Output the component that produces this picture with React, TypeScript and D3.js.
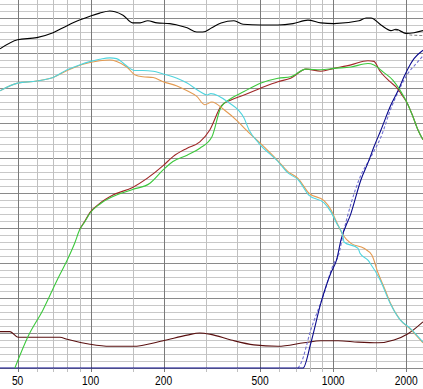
import React from "react";
import { scaleLog, scaleLinear, line, curveMonotoneX } from "d3";

const W = 423;
const H = 389;
const PLOT_BOTTOM = 368;

// tick labels and grid positions (Hz)
const tickLabels = [50, 100, 200, 500, 1000, 2000];
const gridFreqs = [50, 60, 70, 80, 90, 100, 150, 200, 300, 400, 500, 600, 700, 800, 900, 1000, 1500, 2000];
const majorFreqs = [50, 100, 200, 500, 1000, 2000];

// curves: [frequency Hz, level dB]
const blackCurve: [number, number][] = [
  [42.3, 95.6], [50, 96.9], [60, 97.2], [70, 97.9], [80, 98.9], [90, 99.7], [100, 100.3], [109, 100.7],
  [120, 101.0], [126, 100.9], [136, 100.4], [149, 99.3], [160, 99.3], [172, 99.6], [188, 99.3],
  [212, 99.2], [227, 99.0], [250, 98.6], [274, 98.0], [290, 98.0], [316, 98.6], [345, 99.3],
  [390, 99.6], [425, 99.1], [504, 99.0], [592, 99.0], [683, 99.2], [787, 99.7], [890, 99.3],
  [1008, 99.2], [1278, 99.6], [1366, 100.0], [1432, 100.0], [1574, 99.0], [1731, 98.2],
  [1815, 98.4], [1997, 97.8], [2154, 97.9], [2346, 98.2],
];

const grayDashed: [number, number][] = [
  [1800, 98.3], [1886, 98.1], [1990, 97.8], [2100, 97.55], [2346, 97.5],
];

const cyanCurve: [number, number][] = [
  [42.3, 89.6], [50, 90.7], [60, 91.0], [70, 91.5], [80, 92.6], [90, 93.3], [100, 93.8], [109, 94.1],
  [120, 94.3], [128, 94.2], [138, 93.4], [152, 92.5], [164, 92.5], [181, 92.4], [199, 92.0],
  [227, 91.4], [250, 90.7], [282, 89.5], [302, 89.0], [313, 89.2], [368, 88.0], [429, 85.7],
  [450, 84.0], [494, 82.1], [592, 79.5], [649, 77.9], [716, 76.9], [793, 74.7], [917, 73.6],
  [979, 72.3], [1032, 70.7], [1098, 68.8], [1108, 68.0], [1266, 67.1], [1290, 66.4], [1391, 65.4],
  [1418, 65.0], [1560, 62.6], [1715, 59.3], [1886, 56.9], [2073, 55.7], [2346, 53.7],
];

const orangeCurve: [number, number][] = [
  [42.3, 89.6], [50, 90.7], [60, 91.0], [70, 91.5], [80, 92.5], [93, 93.4], [109, 93.9],
  [120, 94.0], [128, 93.8], [141, 93.0], [152, 91.9], [164, 91.6], [181, 91.5], [199, 90.9],
  [227, 90.3], [250, 89.6], [274, 88.8], [296, 87.6], [316, 88.0], [355, 86.9], [405, 85.2],
  [429, 84.3], [450, 83.6], [494, 82.3], [592, 79.6], [649, 78.1], [716, 77.1], [793, 75.0],
  [917, 73.9], [979, 72.6], [1032, 70.9], [1098, 69.0], [1184, 67.8], [1340, 67.1], [1445, 66.1],
  [1530, 63.6], [1640, 61.1], [1715, 59.4], [1886, 56.9], [2073, 55.6], [2346, 53.6],
];

const greenCurve: [number, number][] = [
  [48.7, 50.0], [55.2, 54.5], [63.6, 58.3], [73.3, 62.8], [80, 65.4], [86.1, 67.9], [90, 69.7],
  [94.7, 70.9], [99.3, 72.1], [109, 73.4], [123.6, 74.5], [149, 75.5], [175.6, 76.4], [199, 78.3],
  [218.5, 79.5], [250, 80.4], [282, 81.4], [316, 83.0], [345, 87.3], [379, 88.5], [429, 89.5],
  [504, 90.7], [592, 91.4], [668, 91.6], [772, 92.7], [890, 92.6], [1008, 92.8], [1184, 93.0],
  [1391, 93.5], [1473, 93.3], [1605, 92.3], [1765, 91.1], [1886, 89.7], [2016, 87.9], [2133, 85.9],
  [2237, 84.0], [2346, 82.6],
];

const redCurve: [number, number][] = [
  [90, 69.8], [94.7, 71.0], [99.3, 72.2], [109, 73.5], [123.6, 74.7], [149, 75.8], [199, 78.9],
  [218.5, 80.2], [250, 81.4], [282, 82.3], [310, 84.0], [345, 87.4], [379, 88.3], [429, 89.0],
  [504, 90.0], [592, 90.9], [668, 91.4], [772, 92.7], [890, 92.4], [1008, 92.8], [1184, 93.3],
  [1391, 93.9], [1473, 93.8], [1560, 92.4], [1715, 90.9], [1833, 90.0], [1904, 89.2], [2016, 87.9],
  [2133, 85.9], [2237, 84.0], [2346, 82.6],
];

const maroonCurve: [number, number][] = [
  [42.3, 55.2], [46.5, 55.2], [50.2, 54.4], [74.7, 54.4], [80, 54.1], [99.3, 53.4], [120, 53.1],
  [149, 53.1], [199, 53.9], [250, 54.7], [282, 55.0], [313, 54.8], [379, 54.0], [471, 53.3],
  [592, 53.1], [758, 53.6], [890, 53.9], [1047, 53.9], [1266, 53.7], [1530, 53.6], [1781, 54.0],
  [2035, 54.9], [2346, 56.6],
];

const blueCurve: [number, number][] = [
  [42.3, 50.0], [751, 50.0], [808, 53.5], [890, 59.3], [979, 63.6], [1032, 65.4], [1077, 68.3],
  [1184, 72.1], [1302, 76.9], [1391, 79.3], [1473, 81.6], [1574, 84.0], [1731, 87.6], [1850, 89.6],
  [1959, 91.6], [2073, 93.3], [2154, 94.2], [2346, 95.4],
];

const blueDashed: [number, number][] = [
  [716, 50.0], [737, 50.7], [808, 55.4], [908, 60.2], [1008, 65.0], [1047, 65.9], [1108, 69.7],
  [1278, 76.9], [1432, 80.2], [1574, 83.0], [1731, 87.1], [1850, 89.4], [2035, 92.1], [2216, 93.6],
  [2346, 94.6],
];

const minorLevels = Array.from({ length: 53 }, (_, i) => 50 + i);

export default function App() {
  const x = scaleLog().domain([42.3, 2346]).range([0, W]);
  const y = scaleLinear().domain([50, 100]).range([PLOT_BOTTOM, 18]);

  const path = line<[number, number]>()
    .x(d => x(d[0]))
    .y(d => y(d[1]))
    .curve(curveMonotoneX);

  const series = [
    { data: maroonCurve, color: "#5a1010" },
    { data: blueDashed, color: "#7070d0", dash: "3,2" },
    { data: blueCurve, color: "#0a0a8c" },
    { data: redCurve, color: "#a02828" },
    { data: greenCurve, color: "#3cc83c" },
    { data: orangeCurve, color: "#e49a50" },
    { data: cyanCurve, color: "#50d4de" },
    { data: grayDashed, color: "#8c8c8c", dash: "3,2" },
    { data: blackCurve, color: "#000000" },
  ];

  return (
    <svg width={W} height={H} style={{ position: "absolute", left: 0, top: 0, background: "#fff" }}>
      <defs>
        <clipPath id="plot">
          <rect x={0} y={0} width={W} height={PLOT_BOTTOM + 1} />
        </clipPath>
      </defs>
      {/* horizontal grid */}
      {minorLevels.map(v => (
        <line key={"h" + v} x1={0} x2={W} y1={Math.round(y(v)) + 0.5} y2={Math.round(y(v)) + 0.5}
          stroke={v % 5 === 0 ? "#8a8a8a" : "#c8c8c8"} strokeWidth={1} />
      ))}
      {/* vertical grid */}
      {gridFreqs.map(f => (
        <line key={"v" + f} x1={Math.round(x(f)) + 0.5} x2={Math.round(x(f)) + 0.5} y1={0} y2={PLOT_BOTTOM + 4}
          stroke={majorFreqs.includes(f) ? "#7a7a7a" : "#c0c0c0"} strokeWidth={1} />
      ))}
      <g clipPath="url(#plot)">
        {series.map((s, i) => (
          <path key={i} d={path(s.data) || ""} fill="none" stroke={s.color} strokeWidth={1.1}
            strokeDasharray={s.dash} />
        ))}
      </g>
      {tickLabels.map(f => (
        <text key={"t" + f} x={x(f)} y={385} textAnchor="middle" fontSize={12}
          fontFamily="'Liberation Sans', Arial, sans-serif" fill="#000"
          textLength={String(f).length * 5.7} lengthAdjust="spacingAndGlyphs">
          {f}
        </text>
      ))}
    </svg>
  );
}
